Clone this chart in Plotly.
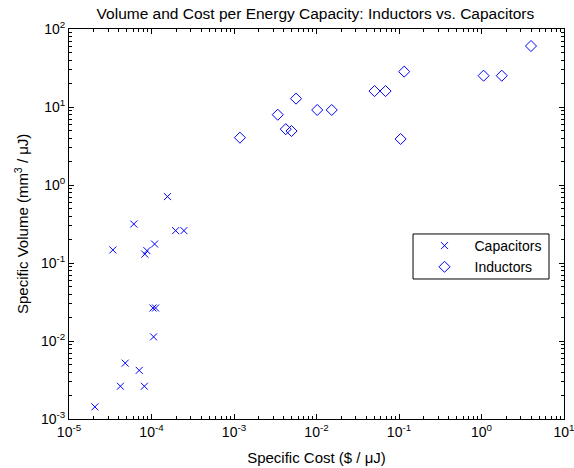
import plotly.graph_objects as go

cap_cost = [2.06e-5, 3.4e-5, 4.2e-5, 4.8e-5, 6.1e-5, 7.1e-5, 8.2e-5, 8.3e-5, 8.8e-5,
            1.04e-4, 1.12e-4, 1.06e-4, 1.09e-4, 1.56e-4, 1.96e-4, 2.47e-4]
cap_vol = [1.43e-3, 0.147, 2.63e-3, 5.2e-3, 0.316, 4.2e-3, 2.63e-3, 0.13, 0.144,
           0.0265, 0.0265, 0.0113, 0.175, 0.71, 0.26, 0.26]

ind_cost = [1.18e-3, 3.39e-3, 4.24e-3, 4.98e-3, 5.65e-3, 1.02e-2, 1.53e-2,
            0.0505, 0.0687, 0.1156, 0.1045, 1.06, 1.76, 3.98]
ind_vol = [4.04, 7.96, 5.2, 4.92, 12.8, 9.16, 9.16,
           16.0, 16.0, 28.4, 3.89, 25.2, 25.2, 60.5]

x_exps = [-5, -4, -3, -2, -1, 0, 1]
y_exps = [-3, -2, -1, 0, 1, 2]

FONT = "Liberation Sans, Arial, Helvetica, sans-serif"
BLUE = "#0000ff"

fig = go.Figure()
fig.add_trace(go.Scatter(x=cap_cost, y=cap_vol, mode="markers", name="Capacitors",
                         marker=dict(symbol="x-thin-open", size=7, color=BLUE,
                                     line=dict(color=BLUE, width=1))))
fig.add_trace(go.Scatter(x=ind_cost, y=ind_vol, mode="markers", name="Inductors",
                         marker=dict(symbol="diamond-open", size=8.5, color=BLUE,
                                     line=dict(color=BLUE, width=1))))

axis_common = dict(type="log", showline=True, linecolor="black", linewidth=1,
                   mirror="ticks", ticks="inside", ticklen=5, tickcolor="black",
                   showgrid=False, zeroline=False, automargin=False,
                   ticklabeloverflow="allow",
                   tickfont=dict(family=FONT, size=14, color="black"),
                   minor=dict(ticks="inside", ticklen=3, tickcolor="black",
                              dtick="D1", showgrid=False))

def labels(exps):
    return [f"10<sup>{e}</sup>" for e in exps]

fig.update_xaxes(range=[-5, 1],
                 tickvals=[10.0 ** e for e in x_exps], ticktext=labels(x_exps),
                 title=dict(text="Specific Cost ($ / μJ)",
                            font=dict(family=FONT, size=15, color="black"), standoff=13),
                 **axis_common)
fig.update_yaxes(range=[-3, 2],
                 tickvals=[10.0 ** e for e in y_exps], ticktext=labels(y_exps),
                 **axis_common)

# y-axis title as a rotated annotation for exact placement
fig.add_annotation(text="Specific Volume (mm<sup>3</sup> / μJ)", xref="paper", yref="paper",
                   x=0, y=0.5, xanchor="center", yanchor="middle", xshift=-48,
                   textangle=-90, showarrow=False,
                   font=dict(family=FONT, size=15, color="black"))

# legend frame (MATLAB-style tight box)
fig.add_shape(type="rect", xref="paper", yref="paper",
              x0=0.695, x1=0.9697, y0=0.359, y1=0.4744,
              line=dict(color="black", width=1), fillcolor="rgba(0,0,0,0)", layer="above")

fig.update_layout(
    width=574, height=468,
    margin=dict(l=69, r=10, t=29, b=49),
    paper_bgcolor="white", plot_bgcolor="white",
    title=dict(text="Volume and Cost per Energy Capacity: Inductors vs. Capacitors",
               font=dict(family=FONT, size=15.5, color="black"),
               x=0.5495, xanchor="center", y=0.972, yanchor="middle"),
    font=dict(family=FONT, size=13, color="black"),
    showlegend=True,
    legend=dict(x=0.698, y=0.4846, xanchor="left", yanchor="top",
                borderwidth=0, bgcolor="rgba(0,0,0,0)",
                font=dict(family=FONT, size=14, color="black"),
                tracegroupgap=0, itemwidth=50),
)

fig.write_html("out.html")
